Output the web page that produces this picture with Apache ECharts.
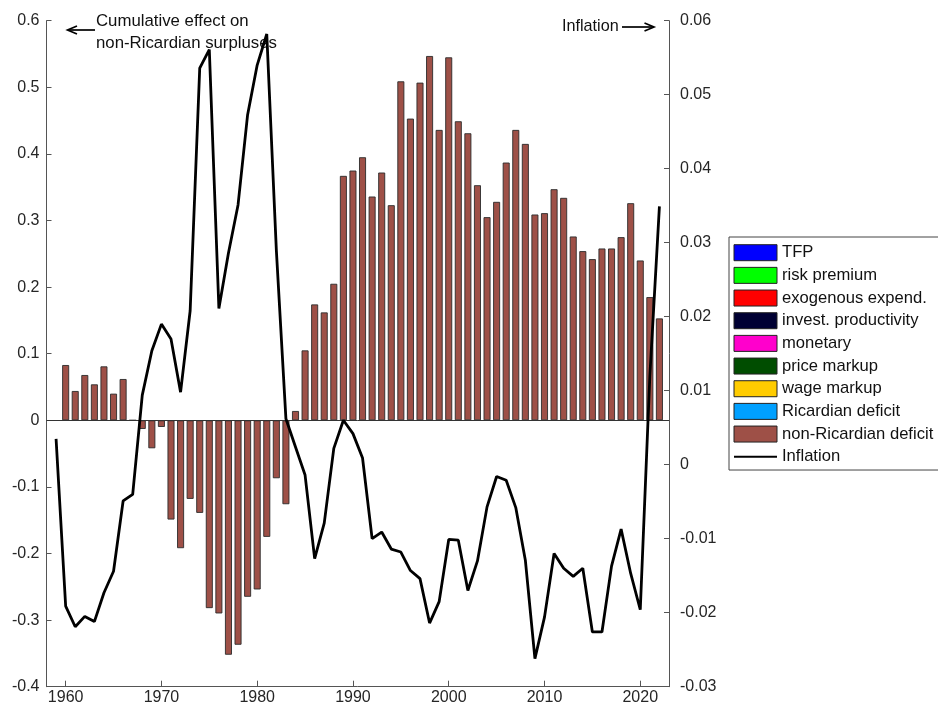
<!DOCTYPE html>
<html>
<head>
<meta charset="utf-8">
<title>Non-Ricardian deficit and inflation</title>
<script src="https://cdn.jsdelivr.net/npm/echarts@6/dist/echarts.min.js"></script>
<style>
  html, body { margin: 0; padding: 0; background: #fff; }
  #chart { width: 938px; height: 715px; }
</style>
</head>
<body>
<div id="chart"></div>
<script>
// Years covered by the decomposition
const years = [
  1959, 1960, 1961, 1962, 1963, 1964, 1965, 1966, 1967, 1968,
  1969, 1970, 1971, 1972, 1973, 1974, 1975, 1976, 1977, 1978,
  1979, 1980, 1981, 1982, 1983, 1984, 1985, 1986, 1987, 1988,
  1989, 1990, 1991, 1992, 1993, 1994, 1995, 1996, 1997, 1998,
  1999, 2000, 2001, 2002, 2003, 2004, 2005, 2006, 2007, 2008,
  2009, 2010, 2011, 2012, 2013, 2014, 2015, 2016, 2017, 2018,
  2019, 2020, 2021, 2022
];

// Cumulative effect of non-Ricardian deficit shocks on surpluses (left axis)
const nonRicardianDeficit = [
  null, 0.083, 0.044, 0.068, 0.054, 0.081, 0.040, 0.062, 0, -0.013,
  -0.042, -0.010, -0.149, -0.192, -0.118, -0.139, -0.282, -0.290, -0.352, -0.337,
  -0.265, -0.254, -0.175, -0.087, -0.126, 0.014, 0.105, 0.174, 0.162, 0.205,
  0.367, 0.375, 0.395, 0.336, 0.372, 0.323, 0.509, 0.453, 0.507, 0.547,
  0.436, 0.545, 0.449, 0.431, 0.353, 0.305, 0.328, 0.387, 0.436, 0.415,
  0.309, 0.311, 0.347, 0.334, 0.276, 0.254, 0.242, 0.258, 0.258, 0.275,
  0.326, 0.240, 0.185, 0.153
];

// Inflation (right axis)
const inflation = [
  0.0035, -0.0191, -0.0219, -0.0205, -0.0212, -0.0173, -0.0144, -0.0049, -0.0040, 0.0094,
  0.0154, 0.0190, 0.0170, 0.0098, 0.0208, 0.0536, 0.0561, 0.0211, 0.0286, 0.0351,
  0.0473, 0.0540, 0.0582, 0.0290, 0.0062, 0.0024, -0.0014, -0.0127, -0.0079, 0.0022,
  0.0060, 0.0042, 0.0009, -0.0100, -0.0091, -0.0114, -0.0118, -0.0143, -0.0154, -0.0214,
  -0.0185, -0.0101, -0.0102, -0.0170, -0.0130, -0.0057, -0.0016, -0.0021, -0.0058, -0.0129,
  -0.0262, -0.0206, -0.0120, -0.0140, -0.0151, -0.0140, -0.0226, -0.0226, -0.0137, -0.0087,
  -0.0147, -0.0196, 0.0120, 0.0349
];

// Shock components listed in the legend, with their colours
const componentNames = [
  'TFP', 'risk premium', 'exogenous expend.', 'invest. productivity',
  'monetary', 'price markup', 'wage markup', 'Ricardian deficit', 'non-Ricardian deficit'
];
const componentColors = [
  '#0000FF', '#00FF00', '#FF0000', '#000033',
  '#FF00CC', '#004D00', '#FFCC00', '#00A0FF', '#9E5047'
];

// Axis ticks
const yearTicks = [1960, 1970, 1980, 1990, 2000, 2010, 2020];
const leftTicks = [-0.4, -0.3, -0.2, -0.1, 0, 0.1, 0.2, 0.3, 0.4, 0.5, 0.6];
const rightTicks = [-0.03, -0.02, -0.01, 0, 0.01, 0.02, 0.03, 0.04, 0.05, 0.06];

const FONT = 'Liberation Sans, Arial, Helvetica, sans-serif';
const AXIS_COLOR = '#555555';
const LABEL_COLOR = '#262626';

const chart = echarts.init(document.getElementById('chart'), null, { renderer: 'canvas' });

// Only the non-Ricardian component carries values in this panel
const componentData = componentNames.map(name =>
  name === 'non-Ricardian deficit' ? years.map((y, i) => [y, nonRicardianDeficit[i]]) : []
);

const barSeries = componentNames.map((name, k) => ({
  name: name,
  type: 'bar',
  stack: 'shocks',
  xAxisIndex: 0,
  yAxisIndex: 0,
  barWidth: 7,
  data: componentData[k],
  itemStyle: {
    color: componentColors[k],
    borderColor: '#2b2b2b',
    borderWidth: 0.9
  },
  z: 2,
  markLine: name === 'non-Ricardian deficit' ? {
    silent: true,
    symbol: 'none',
    label: { show: false },
    lineStyle: { color: '#333333', width: 1, type: 'solid' },
    data: [{ yAxis: 0 }]
  } : undefined
}));

const lineSeries = {
  name: 'Inflation',
  type: 'line',
  xAxisIndex: 0,
  yAxisIndex: 1,
  data: years.map((y, i) => [y, inflation[i]]),
  showSymbol: false,
  symbol: 'none',
  lineStyle: { color: '#000000', width: 2.8 },
  itemStyle: { color: '#000000' },
  z: 5
};

const axisFont = { fontFamily: FONT, fontSize: 16, color: LABEL_COLOR };

// Legend entries: plain rectangles for the shock components, a bare line for inflation
const legendData = componentNames.map(name => ({
  name: name,
  icon: 'rect',
  itemStyle: { borderColor: '#222222', borderWidth: 1 }
})).concat([{ name: 'Inflation', itemStyle: { opacity: 0 } }]);

const annotationFont = '16.8px ' + FONT;

const option = {
  animation: false,
  backgroundColor: '#ffffff',
  grid: { left: 46.5, right: 269, top: 20.7, bottom: 28.3 },
  xAxis: {
    type: 'value',
    min: 1958,
    max: 2023,
    axisLine: { show: true, onZero: false, lineStyle: { color: AXIS_COLOR, width: 1 } },
    axisTick: { show: true, inside: true, length: 6, customValues: yearTicks, lineStyle: { color: AXIS_COLOR } },
    axisLabel: Object.assign({ customValues: yearTicks, margin: 3, formatter: v => String(v) }, axisFont),
    splitLine: { show: false }
  },
  yAxis: [
    {
      type: 'value',
      position: 'left',
      min: -0.4,
      max: 0.6,
      axisLine: { show: true, onZero: false, lineStyle: { color: AXIS_COLOR, width: 1 } },
      axisTick: { show: true, inside: true, length: 5, customValues: leftTicks, lineStyle: { color: AXIS_COLOR } },
      axisLabel: Object.assign({ customValues: leftTicks, margin: 7, formatter: v => String(+v.toFixed(2)) }, axisFont),
      splitLine: { show: false }
    },
    {
      type: 'value',
      position: 'right',
      min: -0.03,
      max: 0.06,
      axisLine: { show: true, onZero: false, lineStyle: { color: AXIS_COLOR, width: 1 } },
      axisTick: { show: true, inside: true, length: 5, customValues: rightTicks, lineStyle: { color: AXIS_COLOR } },
      axisLabel: Object.assign({ customValues: rightTicks, margin: 11, formatter: v => String(+v.toFixed(3)) }, axisFont),
      splitLine: { show: false }
    }
  ],
  legend: {
    orient: 'vertical',
    left: 729,
    top: 237,
    padding: [5.7, 30, 3.3, 4],
    itemWidth: 43,
    itemHeight: 16,
    itemGap: 2.67,
    borderColor: '#444444',
    borderWidth: 1,
    backgroundColor: '#ffffff',
    selectedMode: false,
    textStyle: { fontFamily: FONT, fontSize: 16.6, color: '#111111', lineHeight: 20 },
    data: legendData
  },
  graphic: [
    // Left-axis annotation
    { type: 'text', z: 1, x: 96, y: 21, style: { text: 'Cumulative effect on', font: annotationFont, fill: '#111111', verticalAlign: 'middle' } },
    { type: 'text', z: 1, x: 96, y: 43, style: { text: 'non-Ricardian surpluses', font: annotationFont, fill: '#111111', verticalAlign: 'middle' } },
    { type: 'line', z: 1, shape: { x1: 95, y1: 30, x2: 68, y2: 30 }, style: { stroke: '#000000', lineWidth: 1.7 } },
    { type: 'polyline', z: 1, shape: { points: [[77, 26], [67.5, 30], [77, 34]] }, style: { stroke: '#000000', lineWidth: 1.7, fill: null } },
    // Right-axis annotation
    { type: 'text', z: 1, x: 562, y: 27, style: { text: 'Inflation', font: '16.2px ' + FONT, fill: '#111111', verticalAlign: 'middle' } },
    { type: 'line', z: 1, shape: { x1: 622, y1: 27, x2: 653, y2: 27 }, style: { stroke: '#000000', lineWidth: 1.7 } },
    { type: 'polyline', z: 1, shape: { points: [[644.5, 23], [654, 27], [644.5, 31]] }, style: { stroke: '#000000', lineWidth: 1.7, fill: null } }
  ],
  series: barSeries.concat([lineSeries])
};

chart.setOption(option);
</script>
</body>
</html>
